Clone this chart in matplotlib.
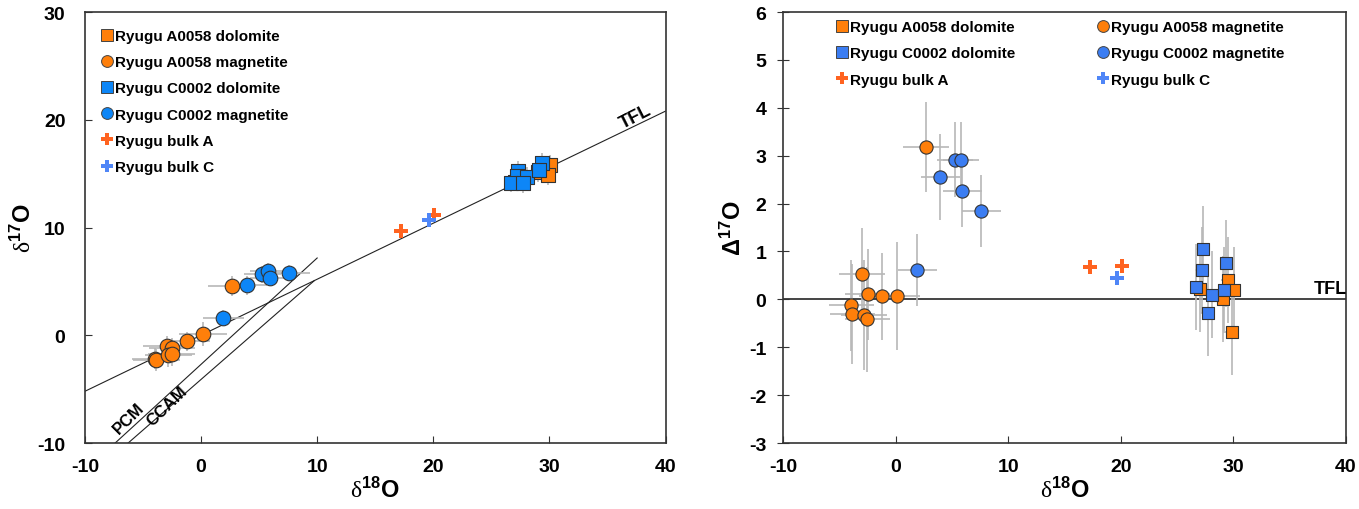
import numpy as np
import matplotlib
matplotlib.use('Agg')
import matplotlib.pyplot as plt
from matplotlib.lines import Line2D

plt.rcParams['font.family'] = ['Liberation Sans', 'DejaVu Sans']
plt.rcParams['axes.unicode_minus'] = False
plt.rcParams['mathtext.fontset'] = 'custom'
plt.rcParams['mathtext.rm'] = 'Liberation Serif:weight=normal'
plt.rcParams['mathtext.bf'] = 'Liberation Sans:bold'
plt.rcParams['mathtext.it'] = 'Liberation Sans:bold'

# ---- data: d18O, d17O (left), D17O (right), errors ----
a_dol_d18 = [27.0, 29.49, 30.05, 29.05, 29.9]
a_dol_d17 = [14.25, 15.74, 15.83, 15.11, 14.86]
a_dol_D17 = [0.21, 0.41, 0.20, 0.00, -0.69]
a_dol_xerr = [0.6, 0.6, 0.6, 0.6, 0.6]
a_dol_yerr = [0.9, 0.9, 0.9, 0.9, 0.9]

a_mag_d18 = [2.67, -2.96, -2.48, -1.21, 0.15, -3.93, -3.85, -2.81, -2.54]
a_mag_d17 = [4.57, -1.01, -1.18, -0.57, 0.15, -2.16, -2.31, -1.79, -1.74]
a_mag_D17 = [3.18, 0.53, 0.11, 0.06, 0.07, -0.12, -0.31, -0.33, -0.42]
a_mag_xerr = [2.05, 2.05, 2.0, 2.0, 2.05, 2.0, 2.0, 2.0, 2.0]
a_mag_yerr = [0.94, 0.95, 0.95, 0.9, 1.12, 0.95, 1.05, 1.15, 1.1]

c_dol_d18 = [27.27, 27.18, 26.71, 28.07, 27.72, 29.37, 29.14]
c_dol_d17 = [15.23, 14.74, 14.15, 14.70, 14.12, 16.02, 15.35]
c_dol_D17 = [1.05, 0.61, 0.26, 0.10, -0.29, 0.75, 0.20]
c_dol_xerr = [0.6, 0.6, 0.6, 0.6, 0.6, 0.6, 0.6]
c_dol_yerr = [0.9, 0.9, 0.9, 0.9, 0.9, 0.9, 0.9]

c_mag_d18 = [1.93, 3.97, 5.28, 5.78, 5.93, 7.61]
c_mag_d17 = [1.62, 4.62, 5.67, 5.93, 5.35, 5.81]
c_mag_D17 = [0.62, 2.56, 2.92, 2.92, 2.27, 1.85]
c_mag_xerr = [1.75, 1.75, 1.6, 1.6, 1.75, 1.75]
c_mag_yerr = [0.75, 0.9, 0.78, 0.78, 0.75, 0.75]

bulk_a_d18 = [17.26, 20.1]
bulk_a_d17 = [9.66, 11.15]
bulk_a_D17 = [0.68, 0.70]
bulk_c_d18 = [19.67]
bulk_c_d17 = [10.68]
bulk_c_D17 = [0.45]

# reference lines: (slope, intercept, x range)
tfl = (0.52, 0.0, (-10, 40))
pcm = (0.987, -2.7, (-7.4, 10.0))
ccam = (0.94, -4.1, (-6.28, 9.76))

orange = '#FF7F0A'
blue_l = '#0D86F7'
blue_r = '#3B7DF2'
plus_a = '#FF6320'
plus_c = '#4F86F7'
errc = '#B8B8B8'

fig = plt.figure(figsize=(13.59, 5.10), dpi=100)
ax1 = fig.add_axes((0.0625, 0.1294, 0.4272, 0.8451))
ax2 = fig.add_axes((0.5762, 0.1294, 0.4142, 0.8451))


def draw(ax, ycol, blue, circ, sq):
	groups = [
		(a_dol_d18, ycol[0], a_dol_xerr, a_dol_yerr, 's', orange, sq, 'Ryugu A0058 dolomite'),
		(a_mag_d18, ycol[1], a_mag_xerr, a_mag_yerr, 'o', orange, circ, 'Ryugu A0058 magnetite'),
		(c_dol_d18, ycol[2], c_dol_xerr, c_dol_yerr, 's', blue, sq, 'Ryugu C0002 dolomite'),
		(c_mag_d18, ycol[3], c_mag_xerr, c_mag_yerr, 'o', blue, circ, 'Ryugu C0002 magnetite'),
	]
	handles = {}
	for x, y, xe, ye, mk, col, sz, lab in groups:
		ax.errorbar(x, y, xerr=xe, yerr=ye, fmt='none', ecolor=errc, elinewidth=1.2, capsize=0, zorder=2)
	for x, y, xe, ye, mk, col, sz, lab in groups:
		ax.scatter(x, y, marker=mk, s=sz ** 2, c=col, edgecolors='#333333', linewidths=0.8, zorder=3)
		handles[lab] = Line2D([], [], ls='none', marker=mk, markersize=8.5, mfc=col, mec='#444444', mew=0.7)
	ax.scatter(bulk_a_d18, ycol[4], marker='P', s=95, c=plus_a, linewidths=0, zorder=4)
	ax.scatter(bulk_c_d18, ycol[5], marker='P', s=95, c=plus_c, linewidths=0, zorder=4)
	handles['Ryugu bulk A'] = Line2D([], [], ls='none', marker='P', markersize=8.5, mfc=plus_a, mew=0)
	handles['Ryugu bulk C'] = Line2D([], [], ls='none', marker='P', markersize=8.5, mfc=plus_c, mew=0)
	return handles


def style(ax):
	for s in ax.spines.values():
		s.set_color('#333333')
		s.set_linewidth(1.2)
	for lab in ax.get_xticklabels() + ax.get_yticklabels():
		lab.set_fontweight('bold')


# ---- left panel ----
for slope, icpt, (x0, x1) in (tfl, pcm, ccam):
	xs = np.array([x0, x1])
	ax1.plot(xs, slope * xs + icpt, color='#222222', lw=0.8, zorder=1)
h1 = draw(ax1, [a_dol_d17, a_mag_d17, c_dol_d17, c_mag_d17, bulk_a_d17, bulk_c_d17], blue_l, 10.5, 10)
ax1.set_xlim(-10, 40)
ax1.set_ylim(-10, 30)
ax1.set_xticks([-10, 0, 10, 20, 30, 40])
ax1.set_yticks([-10, 0, 10, 20, 30])
ax1.tick_params(axis='x', direction='in', length=5, labelsize=14, width=0.8, colors='#333333', labelcolor='black', pad=11)
ax1.tick_params(axis='y', direction='in', length=5, labelsize=14, width=0.8, colors='#333333', labelcolor='black', pad=14)
ax1.set_xlabel(r'$\mathrm{δ}^{\mathbf{18}}\mathbf{O}$', fontsize=17, labelpad=1)
ax1.set_ylabel(r'$\mathrm{δ}^{\mathbf{17}}\mathbf{O}$', fontsize=17, labelpad=1)
ax1.text(37.4, 20.3, 'TFL', rotation=27, fontsize=13, fontweight='bold', ha='center', va='center')
ax1.text(-6.2, -7.7, 'PCM', rotation=45, fontsize=12, fontweight='bold', ha='center', va='center')
ax1.text(-2.9, -6.5, 'CCAM', rotation=44, fontsize=12, fontweight='bold', ha='center', va='center')
order1 = ['Ryugu A0058 dolomite', 'Ryugu A0058 magnetite', 'Ryugu C0002 dolomite',
		  'Ryugu C0002 magnetite', 'Ryugu bulk A', 'Ryugu bulk C']
ax1.legend([h1[k] for k in order1], order1, loc='upper left', bbox_to_anchor=(0.017, 0.975), frameon=False,
		   prop={'weight': 'bold', 'size': 11}, handletextpad=0.1, handlelength=0.8, labelspacing=0.8,
		   borderaxespad=0)

# ---- right panel ----
ax2.axhline(0, color='#444444', lw=1.4, zorder=1)
h2 = draw(ax2, [a_dol_D17, a_mag_D17, c_dol_D17, c_mag_D17, bulk_a_D17, bulk_c_D17], blue_r, 9.5, 9)
ax2.set_xlim(-10, 40)
ax2.set_ylim(-3, 6)
ax2.set_xticks([-10, 0, 10, 20, 30, 40])
ax2.set_yticks(range(-3, 7))
ax2.tick_params(axis='x', direction='in', length=5, labelsize=14, width=0.8, colors='#333333', labelcolor='black', pad=11)
ax2.tick_params(axis='y', direction='inout', length=8, labelsize=14, width=0.8, colors='#333333', labelcolor='black', pad=8)
ax2.set_xlabel(r'$\mathrm{δ}^{\mathbf{18}}\mathbf{O}$', fontsize=17, labelpad=1)
ax2.set_ylabel(r'$\mathbf{Δ}^{\mathbf{17}}\mathbf{O}$', fontsize=17, labelpad=2)
ax2.text(38.6, 0.22, 'TFL', fontsize=13, fontweight='bold', ha='center', va='center')
order2 = ['Ryugu A0058 dolomite', 'Ryugu C0002 dolomite', 'Ryugu bulk A',
		  'Ryugu A0058 magnetite', 'Ryugu C0002 magnetite', 'Ryugu bulk C']
ax2.legend([h2[k] for k in order2], order2, ncol=2, loc='upper left', bbox_to_anchor=(0.083, 0.995), frameon=False,
		   prop={'weight': 'bold', 'size': 11}, handletextpad=0.1, handlelength=0.8, labelspacing=0.8,
		   columnspacing=5.4, borderaxespad=0)

style(ax1)
style(ax2)

fig.savefig('out.png', dpi=100)
